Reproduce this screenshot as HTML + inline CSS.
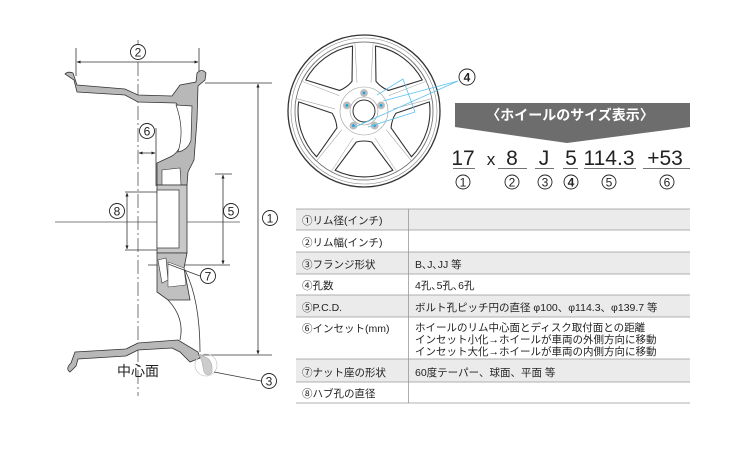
<!DOCTYPE html>
<html><head><meta charset="utf-8"><style>
html,body{margin:0;padding:0;background:#fff;}
svg{display:block;font-family:"Liberation Sans","Noto Sans CJK JP",sans-serif;}
.c{font-family:"Noto Sans CJK JP",sans-serif;}
.cn circle{fill:#fff;stroke:#222;stroke-width:0.9;}
.cn text{font-size:12px;fill:#222;text-anchor:middle;}
</style></head><body>
<svg width="747" height="451" viewBox="0 0 747 451" xmlns="http://www.w3.org/2000/svg">
<defs>
<marker id="ar" viewBox="0 0 10 10" refX="9" refY="5" markerWidth="5" markerHeight="5" orient="auto-start-reverse"><path d="M0,1 L10,5 L0,9 Z" fill="#222"/></marker>
</defs>

<g stroke="#333" stroke-width="0.8" fill="none">
  <line x1="138" y1="40" x2="138" y2="396" stroke="#555" stroke-dasharray="14,3,2,3"/>
  <line x1="55" y1="222" x2="240" y2="222" stroke="#555"/>
  <line x1="76" y1="48" x2="76" y2="76"/>
  <line x1="199" y1="48" x2="199" y2="72"/>
  <line x1="77" y1="62" x2="198" y2="62" marker-start="url(#ar)" marker-end="url(#ar)"/>
  <line x1="205" y1="83" x2="272" y2="83"/>
  <line x1="200" y1="355" x2="272" y2="355"/>
  <line x1="258" y1="84" x2="258" y2="354" marker-start="url(#ar)" marker-end="url(#ar)"/>
  <line x1="125" y1="192" x2="178" y2="192"/>
  <line x1="125" y1="250" x2="178" y2="250"/>
  <line x1="127" y1="193" x2="127" y2="249" marker-start="url(#ar)" marker-end="url(#ar)"/>
  <line x1="215" y1="174" x2="232" y2="174"/>
  <line x1="148" y1="265" x2="230" y2="265"/>
  <line x1="223" y1="175" x2="223" y2="264" marker-start="url(#ar)" marker-end="url(#ar)"/>
  <line x1="156" y1="128" x2="156" y2="186"/>
  <line x1="139" y1="153" x2="155" y2="153" marker-start="url(#ar)" marker-end="url(#ar)"/>
</g>

<path d="M65,74 Q68,71 73,73 L77,85 L125,89 L138,95 L172,96 L180,85 L196,82 L197,73 Q202,68 206,73 L205,80 L198,86 L197,120 L194,160 L188,172 L187,185 L157,185 L157,163 L170,157 Q182,152 184,130 Q183,112 176,103 L138,102 L125,95 L77,92 L74,80 Z" fill="#b8b8b8" stroke="#333" stroke-width="0.8"/>
<path d="M176,105 L192,106 L191,140 Q188,150 178,152 Q185,130 176,105 Z" fill="#fff" stroke="#333" stroke-width="0.7"/>
<path d="M162,170 L180,168 L181,185 L162,185 Z" fill="#fff" stroke="#333" stroke-width="0.6"/>
<rect x="157" y="185" width="30" height="68" fill="#c8c8c8" stroke="#333" stroke-width="0.8"/>
<rect x="157" y="190" width="22" height="58" fill="#fff" stroke="#333" stroke-width="0.7"/>
<path d="M157,253 L187,253 L184,268 L190,300 L168,300 L157,292 Z" fill="#c0c0c0" stroke="#333" stroke-width="0.8"/>
<path d="M158,260 L166,258 L168,280 L162,283 Z" fill="#fff" stroke="#333" stroke-width="0.6"/>
<path d="M168,262 L184,268 L186,285 L168,287 Z" fill="#fff" stroke="#333" stroke-width="0.5"/>
<path d="M168,300 Q185,318 180,340" fill="none" stroke="#333" stroke-width="0.8"/>
<path d="M185,270 Q200,300 200,352" fill="none" stroke="#333" stroke-width="0.8"/>
<path d="M70,372 Q65,369 71,363 L75,352 L126,349 L138,343 L178,340 L198,352 L200,358 L190,362 L180,352 L172,348 L138,350 L126,356 L78,359 L76,366 Z" fill="#b8b8b8" stroke="#333" stroke-width="0.8"/>
<path d="M200,356 Q210,356 212,366 L212,372 Q208,378 204,372 L202,362 Z" fill="#ccc" stroke="#aaa" stroke-width="0.6"/>
<circle cx="206" cy="365" r="11" fill="none" stroke="#ccc" stroke-width="0.8"/>
<line x1="168" y1="264" x2="200" y2="276" stroke="#333" stroke-width="0.7"/>
<line x1="214" y1="372" x2="261" y2="381" stroke="#333" stroke-width="0.7"/>

<g class="cn">
  <circle cx="138" cy="52" r="7.5"/><text x="138" y="56.5">2</text>
  <circle cx="147" cy="131" r="7.5"/><text x="147" y="135.5">6</text>
  <circle cx="117" cy="211" r="7.5"/><text x="117" y="215.5">8</text>
  <circle cx="231" cy="211" r="7.5"/><text x="231" y="215.5">5</text>
  <circle cx="270" cy="218" r="7.5"/><text x="270" y="222.5">1</text>
  <circle cx="208" cy="276" r="7.5"/><text x="208" y="280.5">7</text>
  <circle cx="269" cy="381" r="7.5"/><text x="269" y="385.5">3</text>
  <circle cx="467" cy="77" r="8"/><text x="467" y="81.5" style="font-weight:bold">4</text>
</g>
<text x="138" y="376" font-size="14" fill="#222" text-anchor="middle">中心面</text>

<g transform="translate(364,111)">
  <circle r="76" fill="#fff" stroke="#333" stroke-width="1.3"/>
  <circle r="73" fill="none" stroke="#888" stroke-width="0.6"/>
  <circle r="69" fill="none" stroke="#555" stroke-width="0.7"/>
  <g fill="#fff" stroke="#333" stroke-width="1.1" stroke-linejoin="round">
    <g transform="rotate(36)"><path d="M-7.7,-31 L-28.9,-59.3 A66,66 0 0 1 28.9,-59.3 L7.7,-31 Q0,-29 -7.7,-31 Z"/></g>
    <g transform="rotate(108)"><path d="M-7.7,-31 L-28.9,-59.3 A66,66 0 0 1 28.9,-59.3 L7.7,-31 Q0,-29 -7.7,-31 Z"/></g>
    <g transform="rotate(180)"><path d="M-7.7,-31 L-28.9,-59.3 A66,66 0 0 1 28.9,-59.3 L7.7,-31 Q0,-29 -7.7,-31 Z"/></g>
    <g transform="rotate(252)"><path d="M-7.7,-31 L-28.9,-59.3 A66,66 0 0 1 28.9,-59.3 L7.7,-31 Q0,-29 -7.7,-31 Z"/></g>
    <g transform="rotate(324)"><path d="M-7.7,-31 L-28.9,-59.3 A66,66 0 0 1 28.9,-59.3 L7.7,-31 Q0,-29 -7.7,-31 Z"/></g>
  </g>
  <g fill="none" stroke="#999" stroke-width="0.5">
    <g transform="rotate(36)"><path d="M-11,-27 L-33,-61 A70,70 0 0 1 33,-61 L11,-27"/></g>
    <g transform="rotate(108)"><path d="M-11,-27 L-33,-61 A70,70 0 0 1 33,-61 L11,-27"/></g>
    <g transform="rotate(180)"><path d="M-11,-27 L-33,-61 A70,70 0 0 1 33,-61 L11,-27"/></g>
    <g transform="rotate(252)"><path d="M-11,-27 L-33,-61 A70,70 0 0 1 33,-61 L11,-27"/></g>
    <g transform="rotate(324)"><path d="M-11,-27 L-33,-61 A70,70 0 0 1 33,-61 L11,-27"/></g>
  </g>
  <circle r="24" fill="none" stroke="#999" stroke-width="0.6"/>
  <circle r="11" fill="#fff" stroke="#333" stroke-width="1"/>
  <circle r="14" fill="none" stroke="#999" stroke-width="0.6"/>
  <g fill="#1aa3e8" stroke="#bbb" stroke-width="2.5">
    <circle cx="0" cy="-18" r="2.6"/>
    <circle cx="17.1" cy="-5.6" r="2.6"/>
    <circle cx="10.6" cy="14.6" r="2.6"/>
    <circle cx="-10.6" cy="14.6" r="2.6"/>
    <circle cx="-17.1" cy="-5.6" r="2.6"/>
  </g>
</g>
<g stroke="#5bc0f0" stroke-width="0.8" fill="none">
  <path d="M377,95 L403,79 L415,112 L368,127"/>
  <line x1="383" y1="101" x2="458" y2="81"/>
  <line x1="355" y1="127" x2="458" y2="81"/>
</g>

<path d="M455,103 L690,103 L690,127 L567,143 L455,127 Z" fill="#6d6d6d"/>
<text x="570" y="120" font-size="14" font-weight="bold" fill="#fff" text-anchor="middle">〈ホイールのサイズ表示〉</text>

<g font-size="21" fill="#222" text-anchor="middle">
  <text x="463" y="165">17</text>
  <text x="491" y="165" font-size="17">x</text>
  <text x="512" y="165">8</text>
  <text x="544" y="165">J</text>
  <text x="571" y="165">5</text>
  <text x="609" y="165">114.3</text>
  <text x="665" y="165">+53</text>
</g>
<g stroke="#444" stroke-width="0.8">
  <line x1="453" y1="168.5" x2="475" y2="168.5"/>
  <line x1="498" y1="168.5" x2="527" y2="168.5"/>
  <line x1="535" y1="168.5" x2="554" y2="168.5"/>
  <line x1="563" y1="168.5" x2="578" y2="168.5"/>
  <line x1="584" y1="168.5" x2="636" y2="168.5"/>
  <line x1="643" y1="168.5" x2="690" y2="168.5"/>
</g>
<g class="cn">
  <circle cx="463" cy="182" r="7"/><text x="463" y="186.5">1</text>
  <circle cx="512" cy="182" r="7"/><text x="512" y="186.5">2</text>
  <circle cx="545" cy="182" r="7"/><text x="545" y="186.5">3</text>
  <circle cx="571" cy="182" r="7"/><text x="571" y="186.5" style="font-weight:bold">4</text>
  <circle cx="609" cy="182" r="7"/><text x="609" y="186.5">5</text>
  <circle cx="667" cy="182" r="7"/><text x="667" y="186.5">6</text>
</g>

<g>
  <rect x="296" y="209" width="394" height="21" fill="#ebebeb"/>
  <rect x="296" y="252" width="394" height="22" fill="#ebebeb"/>
  <rect x="296" y="295" width="394" height="22" fill="#ebebeb"/>
  <rect x="296" y="359" width="394" height="23" fill="#ebebeb"/>
  <g stroke="#999" stroke-width="0.8">
    <line x1="296" y1="209" x2="690" y2="209"/>
    <line x1="296" y1="230" x2="690" y2="230"/>
    <line x1="296" y1="252" x2="690" y2="252"/>
    <line x1="296" y1="274" x2="690" y2="274"/>
    <line x1="296" y1="295" x2="690" y2="295"/>
    <line x1="296" y1="317" x2="690" y2="317"/>
    <line x1="296" y1="359" x2="690" y2="359"/>
    <line x1="296" y1="382" x2="690" y2="382"/>
    <line x1="296" y1="403" x2="690" y2="403"/>
    <line x1="408.5" y1="209" x2="408.5" y2="403"/>
  </g>
  <g font-size="10.5" fill="#222">
    <text x="302" y="224">①リム径(インチ)</text>
    <text x="302" y="246">②リム幅(インチ)</text>
    <text x="302" y="268">③フランジ形状</text>
    <text x="302" y="289">④孔数</text>
    <text x="302" y="311">⑤P.C.D.</text>
    <text x="302" y="332">⑥インセット(mm)</text>
    <text x="302" y="376">⑦ナット座の形状</text>
    <text x="302" y="397">⑧ハブ孔の直径</text>
    <text x="415" y="268">B､J､JJ 等</text>
    <text x="415" y="289">4孔､5孔､6孔</text>
    <text x="415" y="311">ボルト孔ピッチ円の直径 φ100、φ114.3、φ139.7 等</text>
    <text x="415" y="331">ホイールのリム中心面とディスク取付面との距離</text>
    <text x="415" y="343">インセット小化→ホイールが車両の外側方向に移動</text>
    <text x="415" y="355">インセット大化→ホイールが車両の内側方向に移動</text>
    <text x="415" y="376">60度テーパー、球面、平面 等</text>
  </g>
</g>
</svg>
</body></html>
